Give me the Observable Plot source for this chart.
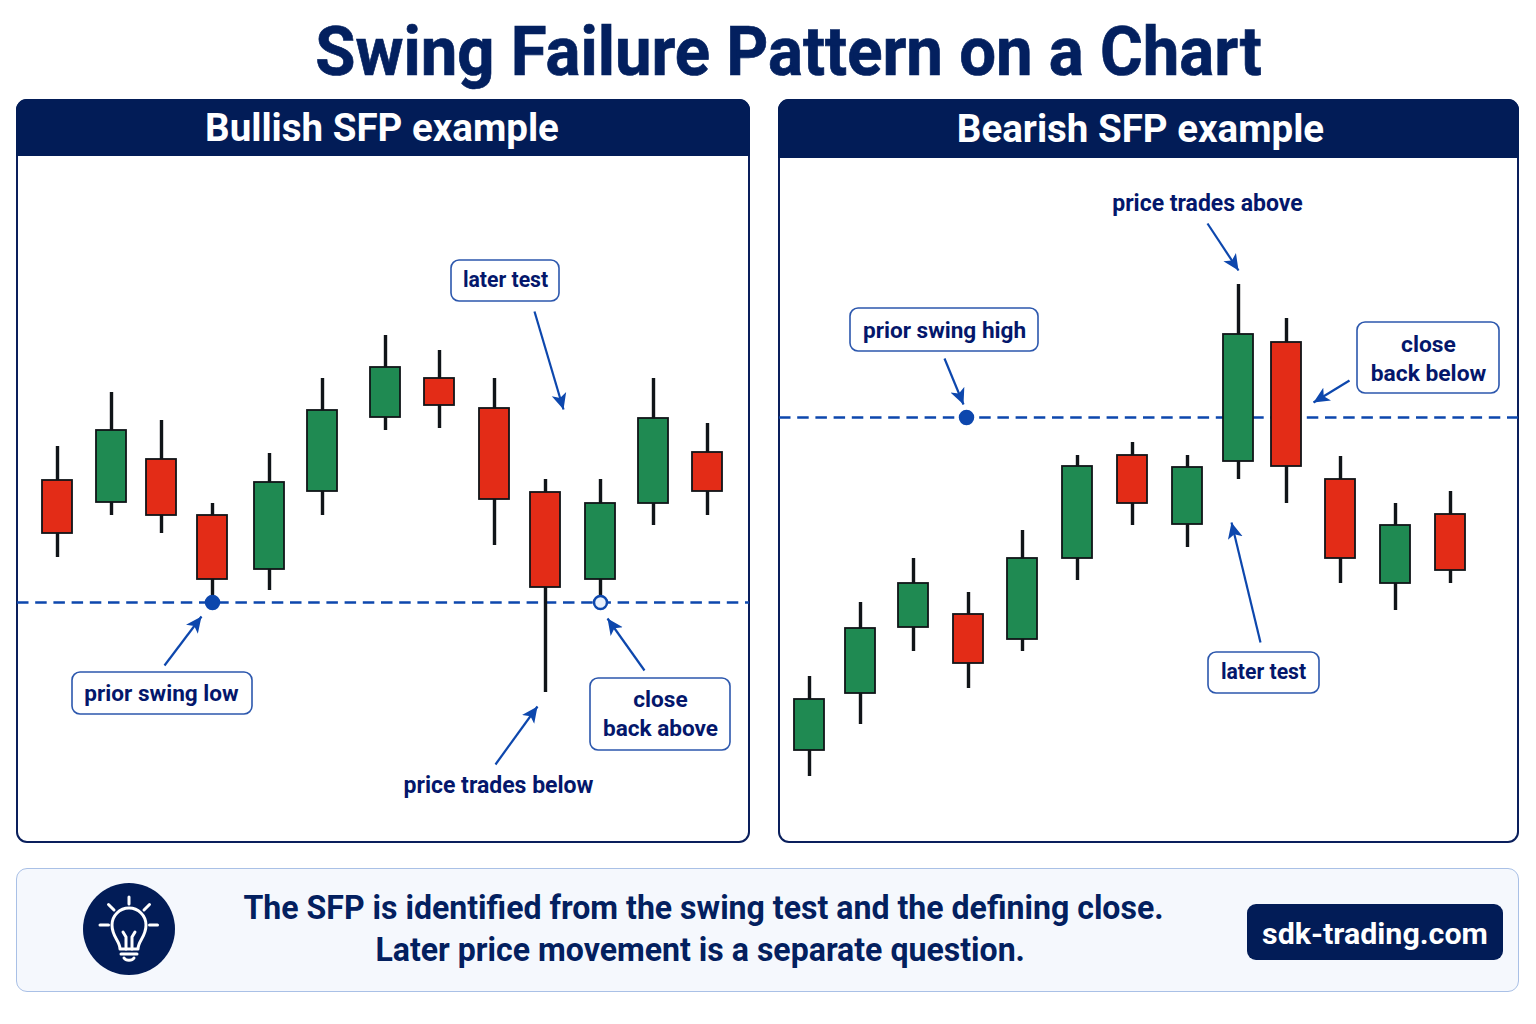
<!DOCTYPE html>
<html lang="en">
<head>
<meta charset="utf-8">
<title>Swing Failure Pattern on a Chart</title>
<script src="https://cdn.jsdelivr.net/npm/d3@7"></script>
<script src="https://cdn.jsdelivr.net/npm/@observablehq/plot@0.6"></script>
<style>
  html,body{margin:0;padding:0;background:#fff;}
  #page{position:relative;width:1536px;height:1024px;overflow:hidden;font-family:Roboto,sans-serif;font-weight:700;color:#03205f;}
  #page>*{position:absolute;box-sizing:border-box;}
  h1{margin:0;left:0;width:1577px;top:11px;text-align:center;font-size:69px;line-height:82px;font-weight:700;color:#03205f;white-space:nowrap;transform:scaleX(.946);-webkit-text-stroke:.7px #03205f;}
  .panel{top:99px;height:744px;border:2px solid #0a1f5c;border-radius:11px;background:#fff;}
  .hd{top:99px;background:#021c57;color:#fff;border-radius:11px 11px 0 0;text-align:center;font-size:38.5px;font-weight:700;white-space:nowrap;}
  .plot{display:block;}
  .chart{top:0;}
  .ft{left:16px;top:867.5px;width:1503px;height:124.5px;border:1.5px solid #a9c0e6;border-radius:11px;background:#f5f8fd;}
  .ftxt{left:200px;width:1007px;text-align:center;font-size:33.5px;line-height:42px;color:#03205f;white-space:nowrap;top:887px;transform:scaleX(.957);}
  .ftxt span{position:relative;left:-3.5px;}
  .badge{left:1247px;top:904px;width:256px;height:56px;border-radius:9px;background:#021c57;color:#fff;font-size:30.4px;line-height:59px;text-align:center;white-space:nowrap;}
  .bulb{left:83px;top:883px;width:92px;height:92px;}
</style>
</head>
<body>
<div id="page">
  <h1>Swing Failure Pattern on a Chart</h1>

  <div class="panel" style="left:16px;width:734px"></div>
  <div class="panel" style="left:778px;width:741px"></div>
  <div class="chart" id="bull" style="left:16.5px;top:157px"></div>
  <div class="chart" id="bear" style="left:778.5px;top:158px"></div>
  <div class="hd" style="left:16px;width:734px;height:57px;line-height:58px;padding-right:2px">Bullish SFP example</div>
  <div class="hd" style="left:778px;width:741px;height:59px;line-height:59px;padding-right:16px">Bearish SFP example</div>

  <div class="ft"></div>
  <svg class="bulb" viewBox="0 0 92 92" role="img" aria-label="light bulb">
    <circle cx="46" cy="46" r="46" fill="#021c57"/>
    <g fill="none" stroke="#fff" stroke-width="3" stroke-linecap="round" stroke-linejoin="round">
      <path d="M46 14v7M25.500 21.500l5.500 5.500M66.500 21.500l-5.500 5.500M17 42h8.500M66.500 42h8"/>
      <path d="M37 66c0-8-8-12-8-24a17 17 0 0 1 34 0c0 12-8 16-8 24z"/>
      <path d="M43 66V54l-3-5M49 66V54l3-5"/>
      <path d="M38 71h16M41 75c2 3 8 3 10 0"/>
    </g>
  </svg>
  <div class="ftxt">The SFP is identified from the swing test and the defining close.<br><span>Later price movement is a separate question.</span></div>
  <div class="badge">sdk-trading.com</div>
</div>

<script>
// ---- Bullish SFP example ----
const bullX     = [4.0, 9.4, 14.4, 19.5, 25.2, 30.5, 36.8, 42.2, 47.7, 52.8, 58.3, 63.6, 69.0];
const bullHigh  = [39.5, 44.9, 42.1, 33.8, 38.8, 46.3, 50.6, 49.1, 46.3, 36.2, 36.2, 46.3, 41.8];
const bullLow   = [28.4, 32.6, 30.8, 24.4, 25.1, 32.6, 41.1, 41.3, 29.6, 14.9, 24.4, 31.6, 32.6];
const bullOpen  = [36.1, 33.9, 38.2, 32.6, 27.2, 35.0, 42.4, 46.3, 43.3, 34.9, 26.2, 33.8, 38.9];
const bullClose = [30.8, 41.1, 32.6, 26.2, 35.9, 43.1, 47.4, 43.6, 34.2, 25.4, 33.8, 42.3, 35.0];
const bullLevel = 23.9;

// ---- Bearish SFP example ----
const bearX     = [3.0, 8.1, 13.4, 18.9, 24.3, 29.8, 35.3, 40.8, 45.9, 50.7, 56.1, 61.6, 67.1];
const bearHigh  = [16.5, 23.9, 28.3, 24.9, 31.1, 38.6, 39.9, 38.6, 55.7, 52.3, 38.5, 33.8, 35.0];
const bearLow   = [6.5, 11.7, 19.0, 15.3, 19.0, 26.1, 31.6, 29.4, 36.2, 33.8, 25.8, 23.1, 25.8];
const bearOpen  = [9.1, 14.8, 21.4, 22.7, 20.2, 28.3, 38.6, 31.7, 38.0, 49.9, 36.2, 25.8, 32.7];
const bearClose = [14.2, 21.3, 25.8, 17.8, 28.3, 37.5, 33.8, 37.4, 50.7, 37.5, 28.3, 31.6, 27.1];
const bearLevel = 42.4;

// ---- Annotations ----
const bullBoxes = [
  {text:"prior swing low",   x1:5.5,  x2:23.5, y1:12.7, y2:16.9, tx:14.4, ty:15.0, size:22.6},
  {text:"later test",        x1:43.4, x2:54.2, y1:54.0, y2:58.1, tx:48.8, ty:56.3, size:21.2},
  {text:"close\nback above", x1:57.3, x2:71.3, y1:9.1,  y2:16.3, tx:64.3, ty:12.9, size:22.6}
];
const bullNotes = [{text:"price trades below", tx:48.1, ty:5.6}];
const bullArrows = [
  {x1:14.7, y1:17.6, x2:18.4, y2:22.5},
  {x1:51.7, y1:53.0, x2:54.6, y2:43.2},
  {x1:62.7, y1:17.1, x2:59.0, y2:22.3},
  {x1:47.8, y1:7.7,  x2:52.0, y2:13.5}
];
const bullDots = [{x:19.5, filled:true}, {x:58.3, filled:false}];

const bearBoxes = [
  {text:"prior swing high",  x1:7.1,  x2:25.9, y1:49.0, y2:53.3, tx:16.5, ty:51.3, size:22.6},
  {text:"close\nback below", x1:57.8, x2:72.0, y1:44.8, y2:51.9, tx:64.9, ty:48.4, size:22.8},
  {text:"later test",        x1:42.9, x2:54.0, y1:14.8, y2:18.9, tx:48.4, ty:17.1, size:21.2}
];
const bearNotes = [{text:"price trades above", tx:42.8, ty:63.8}];
const bearArrows = [
  {x1:16.5, y1:48.3, x2:18.4, y2:43.7},
  {x1:42.8, y1:61.8, x2:45.9, y2:57.1},
  {x1:57.0, y1:46.1, x2:53.4, y2:43.9},
  {x1:48.1, y1:19.9, x2:45.2, y2:31.9}
];
const bearDots = [{x:18.7, filled:true}];

const GREEN = "#1f8a52", RED = "#e32c17", INK = "#101418";
const BLUE = "#0d47ad", BOXLINE = "#2c57ad", TEXT = "#04176b";

// Filled arrow head for the callout leaders
function filledHead(color, context) {
  const m = d3.select(context.document.createElementNS("http://www.w3.org/2000/svg", "marker"))
    .attr("viewBox", "-16 -8 17 16")
    .attr("markerWidth", 17).attr("markerHeight", 16)
    .attr("refX", 0).attr("refY", 0)
    .attr("markerUnits", "userSpaceOnUse")
    .attr("orient", "auto");
  m.append("path").attr("d", "M0,0L-16,-7.5L-12,0L-16,7.5Z").attr("fill", color).attr("stroke", "none");
  return m.node();
}

function panel({xs, hi, lo, op, cl, level, boxes, notes, arrows, dots, width, height}) {
  const candles = xs.map((x, i) => ({x, high: hi[i], low: lo[i], open: op[i], close: cl[i]}));
  return Plot.plot({
    width, height,
    margin: 0,
    x: {domain: [0, width / 10], axis: null},
    y: {domain: [0, height / 10], axis: null},
    style: {background: "none", fontFamily: "Roboto, sans-serif"},
    marks: [
      Plot.ruleY([level], {stroke: BLUE, strokeWidth: 2.5, strokeDasharray: "11.5 6.7"}),
      Plot.ruleX(candles, {x: "x", y1: "low", y2: "high", stroke: INK, strokeWidth: 3.4}),
      Plot.rect(candles, {
        x1: d => d.x - 1.5, x2: d => d.x + 1.5,
        y1: "open", y2: "close",
        fill: d => d.close >= d.open ? GREEN : RED,
        stroke: INK, strokeWidth: 1.8
      }),
      Plot.dot(dots, {
        x: "x", y: () => level, r: 6.5,
        fill: d => d.filled ? BLUE : "#e8f0fc",
        stroke: BLUE, strokeWidth: 2.5
      }),
      Plot.link(arrows, {
        x1: "x1", y1: "y1", x2: "x2", y2: "y2",
        stroke: BLUE, strokeWidth: 2.2, markerEnd: filledHead
      }),
      Plot.rect(boxes, {
        x1: "x1", x2: "x2", y1: "y1", y2: "y2",
        fill: "#fff", stroke: BOXLINE, strokeWidth: 1.6, rx: 8
      }),
      Plot.text(boxes, {
        x: "tx", y: "ty", text: "text", fill: TEXT,
        fontSize: "size", fontWeight: 700, lineHeight: 1.25, textAnchor: "middle"
      }),
      Plot.text(notes, {
        x: "tx", y: "ty", text: "text", fill: TEXT,
        fontSize: 23, fontWeight: 700, textAnchor: "middle"
      })
    ]
  });
}

document.getElementById("bull").append(panel({
  xs: bullX, hi: bullHigh, lo: bullLow, op: bullOpen, cl: bullClose, level: bullLevel,
  boxes: bullBoxes, notes: bullNotes, arrows: bullArrows, dots: bullDots, width: 732, height: 684
}));
document.getElementById("bear").append(panel({
  xs: bearX, hi: bearHigh, lo: bearLow, op: bearOpen, cl: bearClose, level: bearLevel,
  boxes: bearBoxes, notes: bearNotes, arrows: bearArrows, dots: bearDots, width: 739, height: 683
}));
</script>
</body>
</html>
